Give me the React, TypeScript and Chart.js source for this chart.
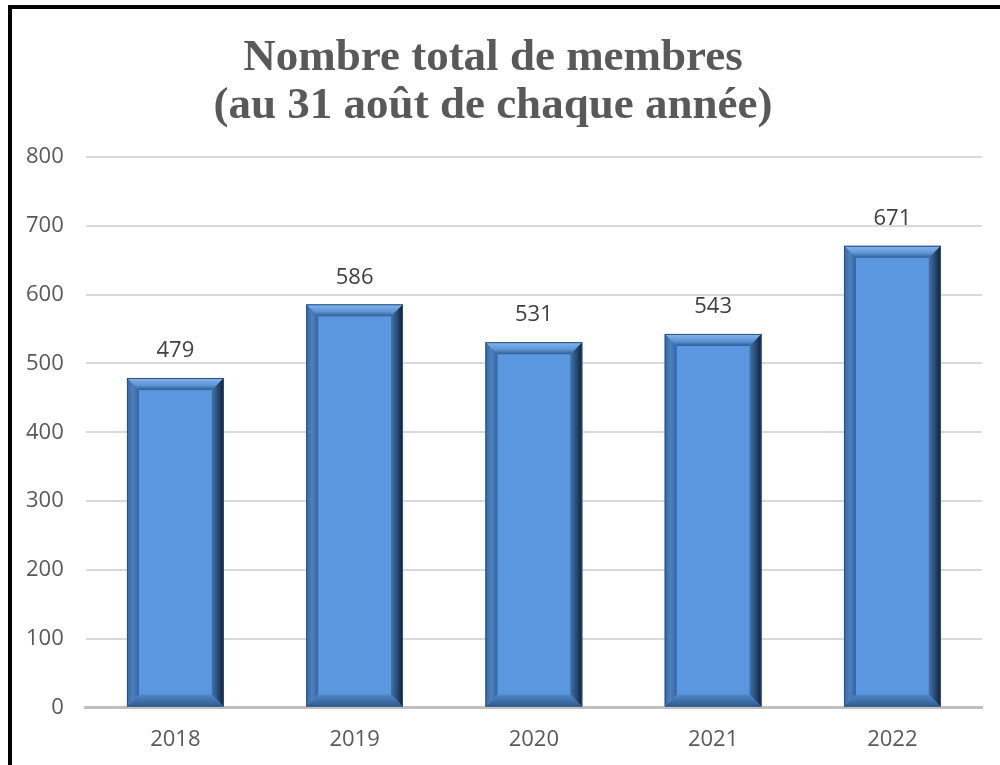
import React, { useEffect, useRef } from "react";
import { Chart, registerables } from "chart.js";

Chart.register(...registerables);

const titleLines = ["Nombre total de membres", "(au 31 août de chaque année)"];
const years = ["2018", "2019", "2020", "2021", "2022"];
const members = [479, 586, 531, 543, 671];
const yMin = 0;
const yMax = 800;
const yStep = 100;

const bevelPlugin = {
  id: "bevel",
  afterDatasetsDraw(chart: any) {
    const ctx = chart.ctx;
    const meta = chart.getDatasetMeta(0);
    meta.data.forEach((bar: any) => {
      const p = bar.getProps(["x", "y", "base", "width"], true);
      const L = p.x - p.width / 2;
      const R = p.x + p.width / 2;
      const T = p.y;
      const B = p.base;
      const b = 12;
      ctx.save();
      let g = ctx.createLinearGradient(0, T, 0, T + b);
      g.addColorStop(0, "#86B6EC");
      g.addColorStop(0.6, "#5F96D6");
      g.addColorStop(1, "#2E5C96");
      ctx.fillStyle = g;
      ctx.beginPath();
      ctx.moveTo(L, T); ctx.lineTo(R, T); ctx.lineTo(R - b, T + b); ctx.lineTo(L + b, T + b); ctx.closePath();
      ctx.fill();
      g = ctx.createLinearGradient(0, B - b, 0, B);
      g.addColorStop(0, "#5088C8");
      g.addColorStop(1, "#2F5A8E");
      ctx.fillStyle = g;
      ctx.beginPath();
      ctx.moveTo(L, B); ctx.lineTo(R, B); ctx.lineTo(R - b, B - b); ctx.lineTo(L + b, B - b); ctx.closePath();
      ctx.fill();
      g = ctx.createLinearGradient(L, 0, L + b, 0);
      g.addColorStop(0, "#3A68A2");
      g.addColorStop(0.5, "#4C80C0");
      g.addColorStop(1, "#3563A0");
      ctx.fillStyle = g;
      ctx.beginPath();
      ctx.moveTo(L, T); ctx.lineTo(L + b, T + b); ctx.lineTo(L + b, B - b); ctx.lineTo(L, B); ctx.closePath();
      ctx.fill();
      g = ctx.createLinearGradient(R - b, 0, R, 0);
      g.addColorStop(0, "#4272AE");
      g.addColorStop(0.5, "#2A4C78");
      g.addColorStop(1, "#111E30");
      ctx.fillStyle = g;
      ctx.beginPath();
      ctx.moveTo(R, T); ctx.lineTo(R - b, T + b); ctx.lineTo(R - b, B - b); ctx.lineTo(R, B); ctx.closePath();
      ctx.fill();
      ctx.strokeStyle = "#2B4F7E";
      ctx.lineWidth = 1;
      ctx.strokeRect(L + 0.5, T + 0.5, p.width - 1, B - T - 1);
      ctx.restore();
    });
  },
};

const labelPlugin = {
  id: "valueLabels",
  afterDatasetsDraw(chart: any) {
    const ctx = chart.ctx;
    const meta = chart.getDatasetMeta(0);
    const data = chart.data.datasets[0].data;
    ctx.save();
    ctx.font = "22px 'Open Sans'";
    ctx.fillStyle = "#404040";
    ctx.textAlign = "center";
    ctx.textBaseline = "middle";
    meta.data.forEach((bar: any, i: number) => {
      ctx.fillText(String(data[i]), bar.x, bar.y - 27);
    });
    ctx.restore();
  },
};

export default function App() {
  const ref = useRef<HTMLCanvasElement | null>(null);
  useEffect(() => {
    if (!ref.current) return;
    const chart = new Chart(ref.current, {
      type: "bar",
      data: {
        labels: years,
        datasets: [
          {
            data: members,
            backgroundColor: "#5B97DE",
            borderWidth: 0,
            barPercentage: 0.54,
            categoryPercentage: 1,
          },
        ],
      },
      options: {
        animation: false,
        responsive: false,
        layout: { padding: { left: 4, right: 18, top: 0, bottom: 3 } },
        plugins: {
          legend: { display: false },
          tooltip: { enabled: false },
          title: {
            display: true,
            text: titleLines,
            color: "#595959",
            font: { family: "'Liberation Serif'", size: 45, weight: "bold", lineHeight: 1.067 },
            padding: { top: 34, bottom: 27 },
          },
        },
        scales: {
          x: {
            grid: { display: false, drawTicks: false },
            border: { display: true, color: "#BFBFBF", width: 3 },
            ticks: { color: "#595959", font: { family: "'Open Sans'", size: 22 }, padding: 19 },
          },
          y: {
            min: yMin,
            max: yMax,
            grid: { color: "#D9D9D9", lineWidth: 2, drawTicks: false },
            border: { display: false },
            ticks: { stepSize: yStep, color: "#595959", font: { family: "'Open Sans'", size: 22 }, padding: 22 },
          },
        },
      },
      plugins: [bevelPlugin, labelPlugin],
    });
    return () => chart.destroy();
  }, []);
  return (
    <div style={{ position: "fixed", left: 0, top: 0, width: 1000, height: 765, overflow: "hidden", background: "#fff" }}>
      <canvas ref={ref} width={1000} height={775} style={{ position: "absolute", left: 0, top: 0 }} />
      <div style={{ position: "absolute", left: 8, top: 5, right: 0, bottom: 0, borderLeft: "4px solid #000", borderTop: "4px solid #000", pointerEvents: "none" }} />
    </div>
  );
}
